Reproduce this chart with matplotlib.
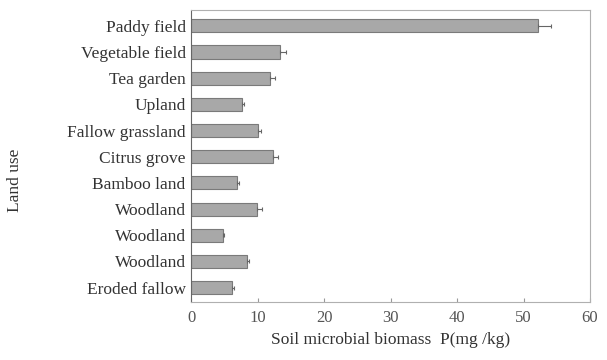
import matplotlib
matplotlib.use("Agg")
import matplotlib.pyplot as plt
import numpy as np

categories = ["Paddy field", "Vegetable field", "Tea garden", "Upland", "Fallow grassland",
              "Citrus grove", "Bamboo land", "Woodland", "Woodland", "Woodland", "Eroded fallow"]
values = [52.2, 13.4, 11.9, 7.7, 10.0, 12.3, 6.9, 9.9, 4.8, 8.4, 6.2]
errors = [2.0, 0.9, 0.7, 0.3, 0.5, 0.8, 0.3, 0.8, 0.2, 0.3, 0.3]
xticks = [0, 10, 20, 30, 40, 50, 60]

plt.rcParams['font.family'] = ['Liberation Serif', 'DejaVu Serif']

fig = plt.figure(figsize=(6.07, 3.6), dpi=100)
ax = fig.add_axes([0.315, 0.161, 0.657, 0.811])

y = np.arange(len(categories))
ax.barh(y, values, height=0.5, color='#a8a8a8', edgecolor='#7a7a7a', linewidth=0.8,
        xerr=[np.zeros(len(errors)), errors],
        error_kw=dict(ecolor='#666666', elinewidth=0.8, capsize=1.5, capthick=0.8))
ax.set_yticks(y)
ax.set_yticklabels(categories, fontsize=12.5, color='#333333')
ax.set_ylim(len(categories) - 0.45, -0.6)
ax.set_xlim(0, 60)
ax.set_xticks(xticks)
ax.set_xticklabels([str(t) for t in xticks], fontsize=12, color='#555555')
ax.tick_params(axis='y', length=0, pad=4)
ax.tick_params(axis='x', direction='in', length=3, color='#999999', pad=6)
for s in ax.spines.values():
    s.set_color('#b0b0b0')
    s.set_linewidth(0.8)
ax.spines['left'].set_color('#666666')
ax.set_xlabel("Soil microbial biomass  P(mg /kg)", fontsize=12.5, color='#333333', labelpad=4)
fig.text(0.025, 0.5, "Land use", rotation=90, fontsize=12.5, color='#333333', va='center', ha='center')

fig.savefig("out.png", dpi=100)
